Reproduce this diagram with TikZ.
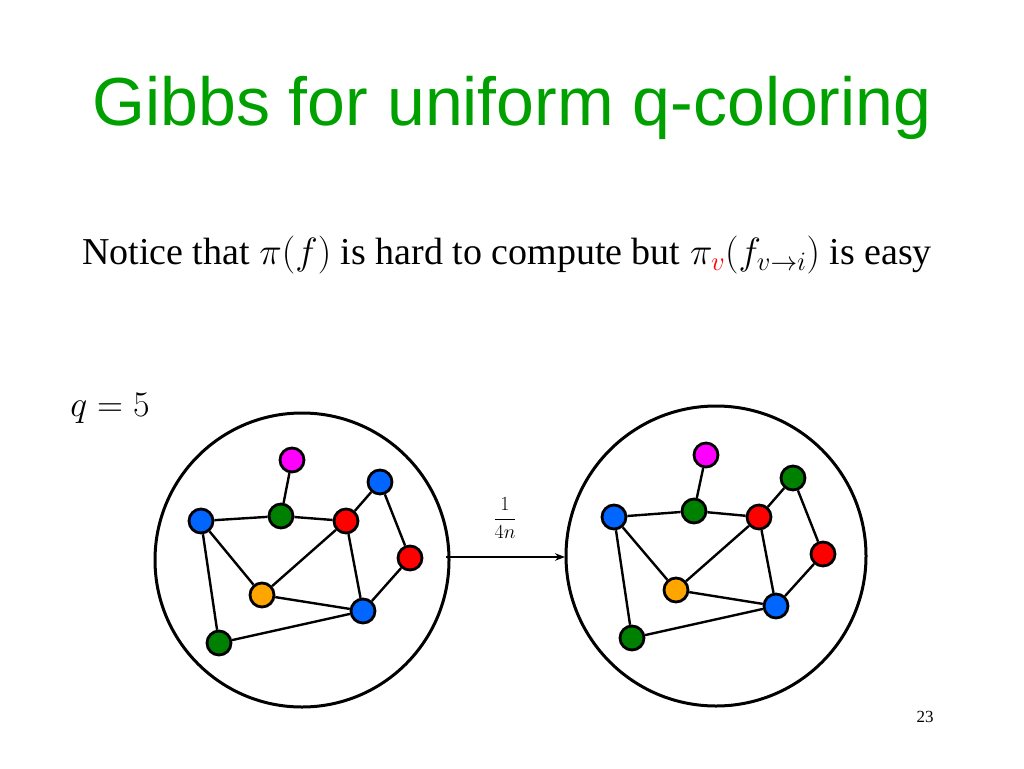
\RequirePackage{fix-cm}
\documentclass[tikz,border=0pt]{standalone}
\usepackage{fontspec}
\setmainfont{Liberation Serif}
\newfontfamily\titlefont{Liberation Sans}
\usepackage{amsmath}
\usetikzlibrary{arrows.meta}
\definecolor{ttlgreen}{RGB}{0,160,0}
\definecolor{vblue}{RGB}{0,102,255}
\definecolor{vgreen}{RGB}{0,128,0}
\definecolor{vred}{RGB}{255,0,0}
\definecolor{vorange}{RGB}{255,165,0}
\definecolor{vmag}{RGB}{255,0,255}
\tikzset{
  vtx/.style={circle,draw=black,line width=2.8pt,minimum size=24pt,inner sep=0pt},
  edg/.style={line width=2.4pt},
  ring/.style={draw,line width=3pt}
}
\begin{document}
\begin{tikzpicture}[x=1pt,y=-1pt]
\useasboundingbox (0,0) rectangle (1024,768);
\node[text=ttlgreen,font=\titlefont\fontsize{68}{78}\selectfont] (title) at (512,108) {Gibbs for uniform q-coloring};
\node[font=\fontsize{38}{44}\selectfont] (note) at (507,255) {Notice that $\pi(f)$ is hard to compute but $\pi_{\color{red}v}(f_{v\to i})$ is easy};
\node[font=\fontsize{36}{42}\selectfont] (q) at (110,408) {$q=5$};
\node[font=\fontsize{17}{20}\selectfont] (page) at (925,717) {23};

% left graph
\draw[ring] (302,560) circle (147);
\node[vtx,fill=vmag]    (a1) at (292,460) {};
\node[vtx,fill=vblue]   (b1) at (380,482) {};
\node[vtx,fill=vblue]   (c1) at (201,521) {};
\node[vtx,fill=vgreen]  (d1) at (281,516) {};
\node[vtx,fill=vred]    (e1) at (346,521) {};
\node[vtx,fill=vred]    (f1) at (410,558) {};
\node[vtx,fill=vorange] (g1) at (262,595) {};
\node[vtx,fill=vblue]   (h1) at (363,611) {};
\node[vtx,fill=vgreen]  (k1) at (219,643) {};

% right graph
\draw[ring] (716,556) circle (150);
\node[vtx,fill=vmag]    (a2) at (706,455) {};
\node[vtx,fill=vgreen]  (b2) at (793,478) {};
\node[vtx,fill=vblue]   (c2) at (614,517) {};
\node[vtx,fill=vgreen]  (d2) at (694,511) {};
\node[vtx,fill=vred]    (e2) at (759,517) {};
\node[vtx,fill=vred]    (f2) at (823,554) {};
\node[vtx,fill=vorange] (g2) at (676,590) {};
\node[vtx,fill=vblue]   (h2) at (776,606) {};
\node[vtx,fill=vgreen]  (k2) at (632,638) {};

\foreach \s in {1,2}{
  \draw[edg] (a\s)--(d\s) (c\s)--(d\s) (d\s)--(e\s) (e\s)--(b\s)
    (c\s)--(g\s) (c\s)--(k\s) (g\s)--(e\s) (g\s)--(h\s) (e\s)--(h\s)
    (b\s)--(f\s) (f\s)--(h\s) (k\s)--(h\s);
}

\coordinate (from) at (446,557);
\coordinate (to) at (565,557);
\draw[line width=2pt,-{Stealth[length=10pt]}] (from) -- (to);
\node[font=\fontsize{20}{24}\selectfont] (rate) at (505,518) {$\dfrac{1}{4n}$};
\end{tikzpicture}
\end{document}
